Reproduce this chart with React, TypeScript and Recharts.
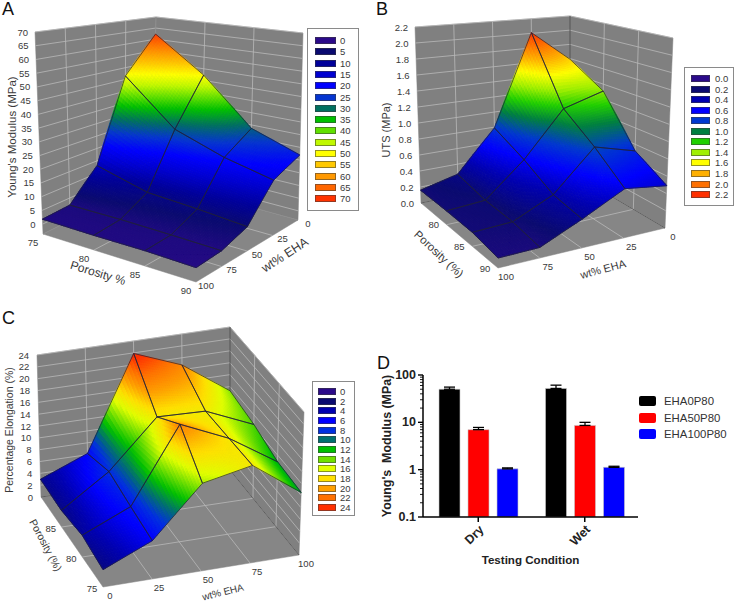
import React from "react";
import { ScatterChart, Scatter, XAxis, YAxis, BarChart, Bar, ErrorBar } from "recharts";

const porosityLevels = [75, 80, 85, 90];
const wtLevels = [0, 25, 50, 75, 100];

// rows: porosity, columns: wt% EHA 0..100
const modulusP75 = [62.3, 46.5, 13.1, 2.3, 1.8];
const modulusP80 = [47.3, 28.2, 7.7, 2.4, 1.5];
const modulusP85 = [28.6, 21.3, 6.5, 2.1, 1.5];
const modulusP90 = [22, 17, 5, 1.7, 1];

const utsP75 = [1.59, 2.01, 0.79, 0.27, 0.16];
const utsP80 = [1.31, 1.15, 0.59, 0.19, 0.16];
const utsP85 = [0.72, 0.85, 0.38, 0.17, 0.15];
const utsP90 = [0.49, 0.55, 0.31, 0.11, 0.1];

const elongP75 = [2.6, 5.9, 13.9, 15.9, 10.5];
const elongP80 = [3.4, 6.8, 19, 15.8, 10.9];
const elongP85 = [2.7, 7.9, 15.8, 15.7, 12.4];
const elongP90 = [3, 6.2, 21.9, 18.8, 13.3];

const modulusTicks = [0, 5, 10, 15, 20, 25, 30, 35, 40, 45, 50, 55, 60, 65, 70];
const modulusColors = ["#2b0a8a", "#0a0a70", "#00009a", "#0000d0", "#0000ff", "#0535d0", "#007060", "#00c000", "#60e000", "#c0f800", "#ffff00", "#ffc800", "#ff9800", "#ff6600", "#ff3300"];
const utsTicks = [0, 0.2, 0.4, 0.6, 0.8, 1, 1.2, 1.4, 1.6, 1.8, 2, 2.2];
const utsColors = ["#2b0a8a", "#0a0a70", "#0000b0", "#0000ff", "#0038d0", "#008040", "#20d000", "#a0f000", "#ffff00", "#ffb000", "#ff7000", "#ff3000"];
const elongTicks = [0, 2, 4, 6, 8, 10, 12, 14, 16, 18, 20, 22, 24];
const elongColors = ["#2b0a8a", "#0a0a70", "#0000b0", "#0000ff", "#0030e0", "#007070", "#00c000", "#70e000", "#e0ff00", "#ffe000", "#ffa000", "#ff7000", "#ff3000"];

const conditions = ["Dry", "Wet"];
const eha0 = [50, 52];
const eha50 = [7, 8.6];
const eha100 = [1.04, 1.12];
const eha0Err = [5.5, 9];
const eha50Err = [0.8, 1.4];
const eha100Err = [0.05, 0.06];
const decadeTicks = [0.1, 1, 10, 100];
const minorTicks = [0.2, 0.3, 0.4, 0.5, 0.6, 0.7, 0.8, 0.9, 2, 3, 4, 5, 6, 7, 8, 9, 20, 30, 40, 50, 60, 70, 80, 90];

const FONT = "'Liberation Sans', Arial, sans-serif";

type Pt = [number, number];
type View = {
  frame: [number, number, number, number];
  bottom: Record<string, Pt>;
  top: Record<string, Pt>;
  zMin: number;
  zMax: number;
  back: [number, number];
  grid: string;
  edge: string;
  rows: number[][];
  zTicks: number[];
  colors: string[];
  colorKnee: number;
  colorGain: number;
  zFmt: (n: number) => string;
  zDx: number;
  pLabels: number[];
  pOff: Pt;
  wOff: Pt;
  titles: { text: string; x: number; y: number; angle: number; size: number }[];
  legend: { left: number; top: number; w: number; h: number; swL: number; swW: number; first: number; step: number; textL: number };
};

const lerp = (a: number, b: number, t: number) => a + (b - a) * t;
const bil = (c: Record<string, Pt>, u: number, v: number): Pt => {
  const f = (i: number) => lerp(lerp(c.a[i], c.b[i], u), lerp(c.c[i], c.d[i], u), v);
  return [f(0), f(1)];
};
// corner keys: a=(u0,v0) b=(u1,v0) c=(u0,v1) d=(u1,v1)
const proj = (w: View, u: number, v: number, z: number): Pt => {
  const b = bil(w.bottom, u, v);
  const t = bil(w.top, u, v);
  const k = (z - w.zMin) / (w.zMax - w.zMin);
  return [lerp(b[0], t[0], k), lerp(b[1], t[1], k)];
};
const hex = (s: string) => [1, 3, 5].map((i) => parseInt(s.slice(i, i + 2), 16));
const colorAt = (w: View, z0: number) => {
  const z = z0 <= w.colorKnee ? z0 : w.colorKnee + (z0 - w.colorKnee) * w.colorGain;
  const n = w.colors.length - 1;
  const f = Math.max(0, Math.min(n - 1e-6, (z / w.zMax) * n));
  const i = Math.floor(f);
  const a = hex(w.colors[i]);
  const b = hex(w.colors[i + 1]);
  const m = a.map((x, j) => Math.round(lerp(x, b[j], f - i)));
  return `rgb(${m[0]},${m[1]},${m[2]})`;
};
const uOf = (p: number) => (p - 75) / 15;
const vOf = (t: number) => t / 100;

const poly = (pts: Pt[], fill: string, stroke: string, sw: number, closed = true) => ({
  x: pts[0][0],
  y: pts[0][1],
  pts: pts.map((p) => [p[0] - pts[0][0], p[1] - pts[0][1]]),
  fill,
  stroke,
  sw,
  closed,
});
const label = (x: number, y: number, text: string, anchor: string, angle: number, size: number) => ({
  x,
  y,
  text,
  anchor,
  angle,
  size,
});

const boxItems = (w: View) => {
  const [ub, vb] = w.back;
  const uo = 1 - ub;
  const vo = 1 - vb;
  const { zMin: lo, zMax: hi } = w;
  const gray = "#808080";
  const items: any[] = [
    poly([proj(w, ub, vo, lo), proj(w, ub, vb, lo), proj(w, ub, vb, hi), proj(w, ub, vo, hi)], gray, gray, 0.5),
    poly([proj(w, uo, vb, lo), proj(w, ub, vb, lo), proj(w, ub, vb, hi), proj(w, uo, vb, hi)], gray, gray, 0.5),
    poly([proj(w, ub, vo, lo), proj(w, ub, vb, lo), proj(w, uo, vb, lo), proj(w, uo, vo, lo)], "#868686", "#868686", 0.5),
  ];
  w.zTicks.forEach((z) => {
    items.push(poly([proj(w, ub, vo, z), proj(w, ub, vb, z), proj(w, uo, vb, z)], "none", w.grid, 0.8, false));
  });
  [80, 85].forEach((p) => {
    const u = uOf(p);
    items.push(poly([proj(w, u, vb, hi), proj(w, u, vb, lo), proj(w, u, vo, lo)], "none", w.grid, 0.8, false));
  });
  [25, 50, 75].forEach((t) => {
    const v = vOf(t);
    items.push(poly([proj(w, ub, v, hi), proj(w, ub, v, lo), proj(w, uo, v, lo)], "none", w.grid, 0.8, false));
  });
  items.push(poly([proj(w, ub, vb, hi), proj(w, ub, vb, lo)], "none", w.edge, 0.8, false));
  items.push(poly([proj(w, ub, vo, lo), proj(w, ub, vb, lo), proj(w, uo, vb, lo)], "none", w.edge, 0.8, false));
  return items;
};

const surfaceItems = (w: View) => {
  const N = 22;
  const [ub, vb] = w.back;
  const pIdx = porosityLevels.map((_, i) => i);
  const wIdx = wtLevels.map((_, i) => i);
  const ps = ub === 0 ? pIdx.slice(0, -1) : pIdx.slice(0, -1).reverse();
  const ws = vb === 0 ? wIdx.slice(0, -1) : wIdx.slice(0, -1).reverse();
  const items: any[] = [];
  const mesh: any[] = [];
  ps.forEach((i) => {
    ws.forEach((j) => {
      const z00 = w.rows[i][j];
      const z10 = w.rows[i + 1][j];
      const z01 = w.rows[i][j + 1];
      const z11 = w.rows[i + 1][j + 1];
      const u0 = uOf(porosityLevels[i]);
      const u1 = uOf(porosityLevels[i + 1]);
      const v0 = vOf(wtLevels[j]);
      const v1 = vOf(wtLevels[j + 1]);
      const Z = (a: number, b: number) => lerp(lerp(z00, z10, a), lerp(z01, z11, a), b);
      const P = (a: number, b: number): Pt => proj(w, lerp(u0, u1, a), lerp(v0, v1, b), Z(a, b));
      for (let ra = 0; ra < N; ra++) {
        for (let rb = 0; rb < N; rb++) {
          const a0 = (ub === 0 ? ra : N - 1 - ra) / N;
          const b0 = (vb === 0 ? rb : N - 1 - rb) / N;
          const a1 = a0 + 1 / N;
          const b1 = b0 + 1 / N;
          const c = colorAt(w, Z((a0 + a1) / 2, (b0 + b1) / 2));
          items.push(poly([P(a0, b0), P(a1, b0), P(a1, b1), P(a0, b1)], c, c, 0.8));
        }
      }
      mesh.push(poly([P(0, 0), P(1, 0), P(1, 1), P(0, 1)], "none", "#20203a", 0.7));
    });
  });
  return items.concat(mesh);
};

const textItems = (w: View) => {
  const [ub, vb] = w.back;
  const vo = 1 - vb;
  const items: any[] = [];
  w.zTicks.forEach((z) => {
    const p = proj(w, ub, vo, z);
    items.push(label(p[0] + w.zDx, p[1], w.zFmt(z), "end", 0, 9.5));
  });
  const frontV = ub === 0 ? 1 : 0;
  w.pLabels.forEach((pv) => {
    const p = proj(w, uOf(pv), frontV, w.zMin);
    items.push(label(p[0] + w.pOff[0], p[1] + w.pOff[1], String(pv), "middle", 0, 9.5));
  });
  const frontU = ub === 0 ? 1 : 0;
  wtLevels.forEach((t) => {
    const p = proj(w, frontU, vOf(t), w.zMin);
    items.push(label(p[0] + w.wOff[0], p[1] + w.wOff[1], String(t), "middle", 0, 9.5));
  });
  w.titles.forEach((t) => items.push(label(t.x, t.y, t.text, "middle", t.angle, t.size)));
  return items;
};

const drawPoly = (p: any) => {
  const it = p.payload;
  const pts = it.pts.map((q: number[]) => `${p.cx + q[0]},${p.cy + q[1]}`).join(" ");
  return it.closed ? (
    <polygon points={pts} fill={it.fill} stroke={it.stroke} strokeWidth={it.sw} strokeLinejoin="round" />
  ) : (
    <polyline points={pts} fill="none" stroke={it.stroke} strokeWidth={it.sw} />
  );
};
const drawText = (p: any) => {
  const it = p.payload;
  return (
    <text
      x={p.cx}
      y={p.cy}
      textAnchor={it.anchor}
      dominantBaseline="central"
      fontSize={it.size}
      fontFamily={FONT}
      fill="#3a3a3a"
      transform={it.angle ? `rotate(${it.angle} ${p.cx} ${p.cy})` : undefined}
    >
      {it.text}
    </text>
  );
};

const viewA: View = {
  frame: [0, 0, 370, 300],
  bottom: { a: [152, 180], b: [298, 220], c: [43, 234], d: [196, 282] },
  top: { a: [156, 17], b: [303, 33], c: [35, 32], d: [197, 52] },
  zMin: -3.6,
  zMax: 70,
  back: [0, 0],
  grid: "#b9b9b9",
  edge: "#8f8f8f",
  rows: [modulusP75, modulusP80, modulusP85, modulusP90],
  zTicks: modulusTicks,
  colors: modulusColors,
  colorKnee: 35,
  colorGain: 1.25,
  zFmt: String,
  zDx: -7,
  pLabels: [75, 80, 85, 90],
  pOff: [-10, 8],
  wOff: [10, 3],
  titles: [
    { text: "Young's Modulus (MPa)", x: 12, y: 137, angle: -90, size: 11.5 },
    { text: "Porosity %", x: 98, y: 273, angle: 17, size: 12 },
    { text: "wt% EHA", x: 285, y: 255, angle: -33, size: 12.5 },
  ],
  legend: { left: 307, top: 28, w: 52, h: 183, swL: 7, swW: 21, first: 12, step: 11.3, textL: 32 },
};
const viewB: View = {
  frame: [370, 0, 367, 300],
  bottom: { a: [570, 172], b: [665, 228], c: [421, 203], d: [498, 268] },
  top: { a: [570, 16], b: [673, 38], c: [415, 27], d: [500, 48] },
  zMin: 0,
  zMax: 2.2,
  back: [0, 0],
  grid: "#b9b9b9",
  edge: "#4a4a4a",
  rows: [utsP75, utsP80, utsP85, utsP90],
  zTicks: utsTicks,
  colors: utsColors,
  colorKnee: 1,
  colorGain: 1.18,
  zFmt: (n) => n.toFixed(1),
  zDx: -7,
  pLabels: [80, 85, 90],
  pOff: [-13, 0],
  wOff: [8, 8],
  titles: [
    { text: "UTS (MPa)", x: 386, y: 130, angle: -90, size: 11 },
    { text: "Porosity (%)", x: 439, y: 254, angle: 43, size: 11.5 },
    { text: "wt% EHA", x: 603, y: 269, angle: -15, size: 11 },
  ],
  legend: { left: 684, top: 67, w: 50, h: 139, swL: 6, swW: 19, first: 11, step: 10.55, textL: 30 },
};
const viewC: View = {
  frame: [0, 300, 370, 301],
  bottom: { a: [103, 587], b: [41, 497], c: [299, 555], d: [230, 470] },
  top: { a: [103, 427], b: [37, 355], c: [304, 412], d: [230, 327] },
  zMin: 0,
  zMax: 24,
  back: [1, 1],
  grid: "#b9b9b9",
  edge: "#4a4a4a",
  rows: [elongP75, elongP80, elongP85, elongP90],
  zTicks: elongTicks,
  colors: elongColors,
  colorKnee: 8,
  colorGain: 1.2,
  zFmt: String,
  zDx: -8,
  pLabels: [75, 80, 85],
  pOff: [-11, 1],
  wOff: [7, 8],
  titles: [
    { text: "Percentage Elongation (%)", x: 9, y: 430, angle: -90, size: 10.5 },
    { text: "Porosity (%)", x: 46, y: 545, angle: 62, size: 10.5 },
    { text: "wt% EHA", x: 223, y: 592, angle: -14, size: 10 },
  ],
  legend: { left: 312, top: 381, w: 43, h: 135, swL: 5, swW: 18, first: 10, step: 9.67, textL: 27 },
};

const Surface = ({ view }: { view: View }) => {
  const [x0, y0, W, H] = view.frame;
  const boxData = boxItems(view);
  const surfData = surfaceItems(view);
  const textData = textItems(view);
  return (
    <div style={{ position: "absolute", left: x0, top: y0, width: W, height: H }}>
      <ScatterChart width={W} height={H} margin={{ top: 0, right: 0, bottom: 0, left: 0 }}>
        <XAxis type="number" dataKey="x" domain={[x0, x0 + W]} hide allowDataOverflow />
        <YAxis type="number" dataKey="y" domain={[y0, y0 + H]} reversed hide allowDataOverflow />
        <Scatter data={boxData} shape={drawPoly} isAnimationActive={false} />
        <Scatter data={surfData} shape={drawPoly} isAnimationActive={false} />
        <Scatter data={textData} shape={drawText} isAnimationActive={false} />
      </ScatterChart>
    </div>
  );
};

const SurfaceLegend = ({ view }: { view: View }) => {
  const l = view.legend;
  return (
    <div
      style={{
        position: "absolute",
        left: l.left,
        top: l.top,
        width: l.w,
        height: l.h,
        boxSizing: "border-box",
        border: "1px solid #8a8a8a",
        background: "#fff",
      }}
    >
      {view.zTicks.map((t, i) => (
        <React.Fragment key={t}>
          <div
            style={{
              position: "absolute",
              left: l.swL,
              top: l.first + i * l.step - 4,
              width: l.swW,
              height: 7,
              boxSizing: "border-box",
              background: view.colors[i],
              border: "1px solid rgba(60,60,60,0.55)",
            }}
          />
          <div
            style={{
              position: "absolute",
              left: l.textL,
              top: l.first + i * l.step - 6,
              fontSize: 9.5,
              lineHeight: "11px",
              color: "#3a3a3a",
              fontFamily: FONT,
            }}
          >
            {view.zFmt(t)}
          </div>
        </React.Fragment>
      ))}
    </div>
  );
};

const barRows = conditions.map((c, i) => ({
  condition: c,
  EHA0P80: eha0[i],
  EHA50P80: eha50[i],
  EHA100P80: eha100[i],
  err0: [0, eha0Err[i]],
  err50: [0, eha50Err[i]],
  err100: [0, eha100Err[i]],
}));
const barSeries = [
  { key: "EHA0P80", err: "err0", color: "#000000" },
  { key: "EHA50P80", err: "err50", color: "#ff0000" },
  { key: "EHA100P80", err: "err100", color: "#0000ff" },
];

const LogTick = (p: any) => {
  const major = decadeTicks.includes(p.payload.value);
  return (
    <g>
      <line x1={p.x} x2={p.x - (major ? 5 : 3)} y1={p.y} y2={p.y} stroke="#000" strokeWidth={major ? 1.4 : 0.9} />
      {major ? (
        <text x={p.x - 7} y={p.y} textAnchor="end" dominantBaseline="central" fontSize={12.5} fontWeight={700} fontFamily={FONT} fill="#222">
          {p.payload.value}
        </text>
      ) : null}
    </g>
  );
};

const BarPanel = () => (
  <div style={{ position: "absolute", left: 375, top: 360, width: 270, height: 215 }}>
    <BarChart
      width={270}
      height={215}
      data={barRows}
      margin={{ top: 15, right: 7, bottom: 0, left: 0 }}
      barSize={21}
      barGap={8}
    >
      <XAxis
        dataKey="condition"
        height={58}
        padding={{ left: 2, right: 0 }}
        tickLine={{ stroke: "#000", strokeWidth: 1.5 }}
        axisLine={{ stroke: "#000", strokeWidth: 1.5 }}
        tickSize={5}
        interval={0}
        angle={-45}
        textAnchor="end"
        tick={{ fontSize: 12.5, fontWeight: 700, fontFamily: FONT, fill: "#222" }}
        label={{ value: "Testing Condition", position: "insideBottom", offset: 11, fontSize: 11.6, fontWeight: 700, fontFamily: FONT, fill: "#222" }}
      />
      <YAxis
        scale="log"
        domain={[0.1, 100]}
        allowDataOverflow
        ticks={[...decadeTicks, ...minorTicks].sort((a, b) => a - b)}
        interval={0}
        width={48}
        tickSize={0}
        tickMargin={0}
        tickLine={false}
        axisLine={{ stroke: "#000", strokeWidth: 1.5 }}
        tick={LogTick}
        label={{ value: "Young's\u00a0 Modulus (MPa)", angle: -90, position: "insideLeft", offset: 12, style: { textAnchor: "middle" }, fontSize: 12.4, fontWeight: 700, fontFamily: FONT, fill: "#222" }}
      />
      {barSeries.map((s) => (
        <Bar key={s.key} dataKey={s.key} fill={s.color} stroke="#c8c8c8" strokeWidth={0.6} isAnimationActive={false}>
          <ErrorBar dataKey={s.err} width={5.5} stroke="#000" strokeWidth={1.3} direction="y" />
        </Bar>
      ))}
    </BarChart>
  </div>
);

const BarLegend = () => (
  <>
    {barSeries.map((s, i) => (
      <React.Fragment key={s.key}>
        <div
          style={{
            position: "absolute",
            left: 639,
            top: 396 + i * 16.5,
            width: 17,
            height: 10,
            borderRadius: 2,
            background: s.color,
          }}
        />
        <div
          style={{
            position: "absolute",
            left: 664,
            top: 394 + i * 16.5,
            fontSize: 11.4,
            lineHeight: "14px",
            color: "#333",
            fontFamily: FONT,
          }}
        >
          {s.key}
        </div>
      </React.Fragment>
    ))}
  </>
);

const panelLetters = [
  { t: "A", x: 2, y: 0 },
  { t: "B", x: 376, y: 0 },
  { t: "C", x: 2, y: 309 },
  { t: "D", x: 377, y: 354 },
];

export default function App() {
  return (
    <div style={{ position: "absolute", left: 0, top: 0, width: 737, height: 601, background: "#fff", overflow: "hidden" }}>
      <Surface view={viewA} />
      <Surface view={viewB} />
      <Surface view={viewC} />
      <BarPanel />
      <SurfaceLegend view={viewA} />
      <SurfaceLegend view={viewB} />
      <SurfaceLegend view={viewC} />
      <BarLegend />
      {panelLetters.map((l) => (
        <div
          key={l.t}
          style={{ position: "absolute", left: l.x, top: l.y, fontSize: 18, lineHeight: "19px", fontFamily: FONT, color: "#111" }}
        >
          {l.t}
        </div>
      ))}
    </div>
  );
}
